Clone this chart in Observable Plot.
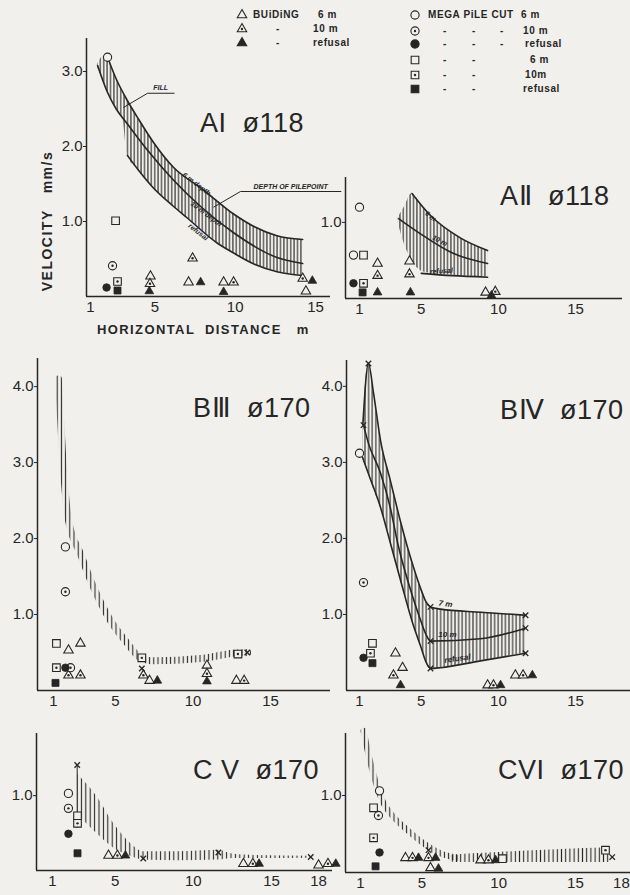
<!DOCTYPE html>
<html><head><meta charset="utf-8">
<script src="https://cdn.jsdelivr.net/npm/d3@7"></script>
<script src="https://cdn.jsdelivr.net/npm/@observablehq/plot@0.6"></script>
<style>
body{margin:0;background:#f1f0ec;}
#page{position:relative;width:630px;height:895px;overflow:hidden;font-family:"Liberation Sans",Arial,sans-serif;color:#262626;background:#f1f0ec;}
.abs{position:absolute;white-space:pre;line-height:1;}
.title{font-size:27px;letter-spacing:0.5px;}
.leg{font-size:10px;font-weight:bold;letter-spacing:0.6px;}
.axt{font-size:14px;letter-spacing:1.5px;font-weight:bold;}
</style></head><body><div id="page"></div>
<script>
const INK = "#262626", BG = "#f1f0ec";

// ---------- data (x = horizontal distance m, v = velocity mm/s) ----------
// AI ø118
const AI_band = [[1.45,3.05,3.10],[1.8,2.86,3.2],[2.06,2.72,3.17],[2.6,2.5,2.9],[3.0,2.38,2.72],[3.3,1.88,2.61],[4.0,1.68,2.36],[4.9,1.45,2.06],[6.17,1.2,1.72],[7.0,1.05,1.58],[7.85,0.9,1.45],[8.9,0.71,1.28],[9.9,0.58,1.1],[11.2,0.43,0.93],[12.6,0.33,0.81],[14.2,0.28,0.76]];
const AI_6m = [[2.06,3.19],[2.6,2.9],[3.3,2.61],[4.0,2.36],[4.9,2.06],[6.17,1.72],[7.85,1.45],[9.9,1.1],[11.2,0.93],[12.6,0.81],[14.2,0.76]];
const AI_10m = [[1.44,3.08],[2.06,2.72],[2.6,2.5],[3.3,2.3],[4.55,1.95],[6.17,1.55],[7.85,1.2],[9.9,0.85],[12.6,0.52],[14.2,0.44]];
const AI_ref = [[3.3,1.88],[4.0,1.68],[4.9,1.45],[6.17,1.2],[7.0,1.05],[8.9,0.71],[9.9,0.58],[11.2,0.43],[12.6,0.33],[14.2,0.28]];
const AI_pts = [[2.06,3.19,"c6"],[2.56,1.01,"s6"],[2.37,0.41,"c10"],[2.68,0.2,"s10"],[2.0,0.12,"cR"],[2.68,0.08,"sR"],
  [4.73,0.27,"b6"],[4.7,0.17,"b10"],[4.66,0.07,"bR"],[7.35,0.51,"b10"],[7.1,0.19,"b6"],[7.85,0.19,"bR"],
  [9.28,0.19,"b6"],[9.9,0.19,"b10"],[9.28,0.06,"bR"],[14.2,0.24,"b10"],[14.8,0.21,"bR"],[14.4,0.07,"b6"]];
const AI_notes = [[5.36,2.79,"FILL",0],[13.45,1.47,"DEPTH OF PILEPOINT",0],[7.6,1.5,"6 m depth",37],[8.2,1.1,"10 m depth",37],[7.7,0.86,"refusal",38]];
const AI_links = [[4.55,2.71,6.23,2.71],[4.55,2.71,3.05,2.52],[10.33,1.4,16.6,1.4],[10.33,1.4,8.65,1.19]];

// AII ø118
const AII_band = [[3.5,1.0,1.06],[3.9,0.72,1.2],[4.4,0.5,1.38],[5.0,0.36,1.23],[5.6,0.33,1.09],[7.5,0.3,0.8],[9.3,0.28,0.63]];
const AII_6m = [[4.4,1.38],[5.6,1.09],[7.5,0.8],[9.3,0.63]];
const AII_10m = [[3.53,1.05],[4.95,0.85],[7.1,0.59],[9.3,0.46]];
const AII_ref = [[5.0,0.33],[7.0,0.3],[9.3,0.28]];
const AII_pts = [[1.0,1.2,"c6"],[0.61,0.57,"c6"],[1.26,0.57,"s6"],[0.61,0.2,"cR"],[1.26,0.2,"s10"],[1.2,0.08,"sR"],
  [2.17,0.46,"b6"],[2.17,0.3,"b10"],[2.17,0.08,"bR"],[4.24,0.49,"b6"],[4.24,0.32,"b10"],[4.3,0.08,"bR"],
  [9.17,0.08,"b6"],[9.8,0.09,"b10"],[9.55,0.04,"bR"]];
const AII_notes = [[5.61,1.08,"6 m",38],[6.2,0.76,"10 m",28],[6.3,0.36,"refusal",-3]];

// BIII ø170
const B3_curve = [[1.32,4.1],[1.58,3.12],[1.97,2.24],[2.74,1.8],[3.58,1.36],[4.68,0.92],[5.77,0.62],[6.61,0.43],[7.45,0.39],[10.48,0.42],[12.61,0.49],[13.52,0.5]];
const B3_pts = [[1.77,1.89,"c6"],[1.77,1.3,"c10"],[1.19,0.62,"s6"],[1.97,0.53,"b6"],[2.74,0.62,"b6"],[1.19,0.3,"s10"],[1.77,0.3,"cR"],[2.1,0.3,"c10"],
  [1.97,0.2,"b10"],[2.74,0.2,"b10"],[1.13,0.1,"sR"],[6.7,0.43,"s10"],[6.7,0.29,"x"],[6.8,0.2,"b10"],[7.2,0.13,"b6"],[7.7,0.13,"bR"],
  [10.9,0.33,"b6"],[10.9,0.22,"b10"],[10.9,0.12,"bR"],[12.9,0.48,"s10"],[13.5,0.5,"x"],[12.8,0.13,"b6"],[13.3,0.13,"b10"]];

// BIV ø170
const B4_band = [[1.2,3.05,3.45],[1.58,2.85,4.3],[1.91,2.65,3.91],[2.36,2.41,3.29],[3.0,1.94,2.76],[3.66,1.45,2.22],[4.5,0.85,1.62],[5.0,0.56,1.32],[5.3,0.38,1.17],[5.6,0.29,1.1],[6.25,0.3,1.07],[8.84,0.39,1.03],[11.76,0.49,0.99]];
const B4_7m = [[1.22,3.5],[1.58,4.3],[1.91,3.91],[2.36,3.29],[3.0,2.76],[3.66,2.22],[4.5,1.62],[5.0,1.32],[5.3,1.17],[5.6,1.1],[6.25,1.07],[8.84,1.03],[11.76,0.99]];
const B4_10m = [[1.26,3.49],[1.58,3.25],[2.36,2.86],[3.0,2.4],[3.46,1.95],[4.5,1.2],[5.0,0.9],[5.3,0.74],[5.6,0.65],[8.84,0.68],[11.76,0.82]];
const B4_ref = [[1.19,3.07],[1.58,2.85],[2.36,2.41],[3.0,1.94],[3.66,1.45],[4.5,0.85],[5.0,0.56],[5.3,0.38],[5.6,0.29],[6.25,0.3],[8.84,0.39],[11.76,0.49]];
const B4_pts = [[1.0,3.12,"c6"],[1.26,1.42,"c10"],[1.84,0.62,"s6"],[1.71,0.49,"s10"],[1.26,0.43,"cR"],[1.84,0.36,"sR"],
  [3.33,0.49,"b6"],[3.79,0.3,"b6"],[3.2,0.2,"b10"],[3.66,0.07,"bR"],[9.3,0.07,"b6"],[9.68,0.07,"b10"],[10.14,0.07,"bR"],
  [11.1,0.2,"b6"],[11.6,0.2,"b10"],[12.2,0.2,"bR"],
  [1.58,4.3,"x"],[1.26,3.49,"x"],[5.6,1.1,"x"],[5.6,0.65,"x"],[5.6,0.29,"x"],[11.76,0.99,"x"],[11.76,0.82,"x"],[11.76,0.49,"x"]];
const B4_notes = [[6.57,1.14,"7 m",8],[6.7,0.74,"10 m",0],[7.35,0.42,"refusal",-8]];

// CV ø170
const CV_band = [[2.6,0.75,1.29],[3.9,0.48,0.97],[4.9,0.3,0.63],[6.0,0.19,0.36],[6.8,0.14,0.25],[9.0,0.13,0.25],[11.6,0.14,0.27],[12.5,0.16,0.22],[14.0,0.16,0.2],[17.5,0.165,0.19]];
const CV_links = [[2.58,0.57,2.58,1.41]];
const CV_pts = [[2.02,1.03,"c6"],[2.02,0.83,"c10"],[2.6,0.73,"s6"],[2.6,0.63,"s10"],[2.02,0.49,"cR"],[2.6,0.23,"sR"],
  [4.58,0.2,"b6"],[5.15,0.2,"b10"],[5.66,0.2,"bR"],[13.2,0.09,"b6"],[13.8,0.09,"b10"],[14.2,0.09,"bR"],
  [18.0,0.07,"b6"],[18.6,0.09,"b10"],[19.1,0.09,"bR"],[2.58,1.41,"x"],[6.8,0.16,"x"],[11.6,0.24,"x"],[17.5,0.18,"x"]];

// CVI ø170
const C6_curve = [[1.2,1.84],[1.45,1.6],[1.78,1.32],[2.5,0.9],[2.95,0.77],[4.06,0.55],[5.1,0.38],[6.2,0.25],[7.3,0.19]];
const C6_band = [[6.8,0.14,0.22],[7.3,0.13,0.23],[10,0.13,0.26],[13,0.13,0.29],[17.3,0.13,0.32]];
const C6_pts = [[2.24,1.06,"c6"],[1.85,0.84,"s6"],[2.17,0.74,"c10"],[1.85,0.45,"s10"],[2.24,0.26,"cR"],[1.98,0.08,"sR"],
  [3.93,0.19,"b6"],[4.39,0.19,"b10"],[4.78,0.19,"bR"],[5.43,0.29,"x"],[5.43,0.19,"b10"],[5.89,0.19,"bR"],[5.56,0.06,"b6"],[6.08,0.05,"bR"],
  [8.82,0.16,"b6"],[9.34,0.16,"b10"],[9.8,0.16,"bR"],[10.25,0.18,"s6"],[16.96,0.29,"s10"],[17.4,0.2,"x"]];

// legend entries
const legendLeft = [["b6", "BUiDiNG", "6 m"], ["b10", null, "10 m"], ["bR", null, "refusal"]];
const legendRight = [["c6", "MEGA PiLE CUT", "6 m"], ["c10", null, "10 m"], ["cR", null, "refusal"], ["s6", null, "6 m"], ["s10", null, "10m"], ["sR", null, "refusal"]];

// ---------- helpers ----------
const page = document.getElementById("page");
const ns = "http://www.w3.org/2000/svg";
function hatchDefs(svg, id, gap, w) {
  const defs = document.createElementNS(ns, "defs");
  const p = document.createElementNS(ns, "pattern");
  p.setAttribute("id", id); p.setAttribute("patternUnits", "userSpaceOnUse");
  p.setAttribute("width", gap); p.setAttribute("height", 8);
  const l = document.createElementNS(ns, "line");
  l.setAttribute("x1", gap / 2); l.setAttribute("x2", gap / 2);
  l.setAttribute("y1", -1); l.setAttribute("y2", 9);
  l.setAttribute("stroke", INK); l.setAttribute("stroke-width", w);
  p.append(l); defs.append(p); svg.prepend(defs);
}
const shapeOf = k => k[0] === "b" ? "triangle" : k[0] === "c" ? "circle" : "square";
const SZ = {triangle: 3.5, circle: 4.1, square: 4.3};
function markerMarks(pts) {
  const P = pts.map(([x, v, k]) => ({x, v, k}));
  const m = [];
  for (const s of ["triangle", "circle", "square"]) {
    m.push(Plot.dot(P.filter(d => d.k !== "x" && shapeOf(d.k) === s && !d.k.endsWith("R")),
      {x: "x", y: "v", symbol: s, r: SZ[s], fill: BG, stroke: INK, strokeWidth: 1.1}));
    m.push(Plot.dot(P.filter(d => d.k !== "x" && shapeOf(d.k) === s && d.k.endsWith("R")),
      {x: "x", y: "v", symbol: s, r: SZ[s] * 0.92, fill: INK, stroke: INK, strokeWidth: 0.8}));
  }
  m.push(Plot.dot(P.filter(d => d.k.endsWith("10")), {x: "x", y: "v", r: 1.2, fill: INK, stroke: "none"}));
  m.push(Plot.dot(P.filter(d => d.k === "x"), {x: "x", y: "v", symbol: "times", r: 2.6, stroke: INK, strokeWidth: 1.3}));
  return m;
}
function panel(o) {
  const id = "hatch" + o.key;
  const X = d => d[0], Y = d => d[1];
  const marks = [];
  if (o.band) marks.push(Plot.areaY(o.band, {x: X, y1: d => d[1], y2: d => d[2], fill: `url(#${id})`, curve: "monotone-x"}));
  for (const c of o.thick || []) marks.push(Plot.line(c, {x: X, y: Y, stroke: `url(#${id})`, strokeWidth: o.thickW || 7, curve: "monotone-x"}));
  for (const c of o.lines || []) marks.push(Plot.line(c, {x: X, y: Y, stroke: INK, strokeWidth: 1.6, curve: "monotone-x"}));
  if (o.links) marks.push(Plot.link(o.links, {x1: d => d[0], y1: d => d[1], x2: d => d[2], y2: d => d[3], stroke: INK, strokeWidth: 1}));
  if (o.notes) marks.push(Plot.text(o.notes, {x: X, y: Y, text: d => d[2], rotate: d => d[3], fontSize: o.noteSize || 8, fontStyle: "italic", fontWeight: "bold", fill: INK, letterSpacing: 1}));
  marks.push(...markerMarks(o.pts));
  marks.push(Plot.ruleX([o.xd[0]], {stroke: INK, strokeWidth: 1.5}));
  marks.push(Plot.ruleY([0], {stroke: INK, strokeWidth: 1.5}));
  marks.push(Plot.axisY({ticks: o.yt, tickFormat: d => d.toFixed(1), tickSize: 3, tickPadding: 1, fontSize: 15, label: null, stroke: INK}));
  marks.push(Plot.axisX({ticks: o.xt, tickFormat: d => String(d), tickSize: 0, tickPadding: 5, fontSize: 15, label: null}));
  const svg = Plot.plot({
    width: o.width, height: o.height,
    marginLeft: o.mL, marginTop: o.mT, marginRight: o.mR, marginBottom: o.mB,
    x: {domain: o.xd}, y: {domain: o.yd},
    style: {background: "transparent", overflow: "visible", color: INK, fontFamily: "Liberation Sans, Arial, sans-serif", maxWidth: "none"},
    marks
  });
  hatchDefs(svg, id, o.gap || 3.4, o.hw || 1.1);
  svg.style.position = "absolute"; svg.style.left = o.left + "px"; svg.style.top = o.top + "px";
  page.append(svg);
}

panel({key: "AI", left: 0, top: 0, width: 335, height: 320, mL: 86, mT: 38, mR: 5, mB: 24, xd: [0.751, 15.93], yd: [0, 3.44],
  yt: [1, 2, 3], xt: [1, 5, 10, 15], band: AI_band, lines: [AI_6m, AI_10m, AI_ref], pts: AI_pts, notes: AI_notes, links: AI_links, noteSize: 7});
panel({key: "AII", left: 320, top: 150, width: 310, height: 170, mL: 25, mT: 27, mR: 8, mB: 22, xd: [0.093, 18.04], yd: [0, 1.59],
  yt: [1], xt: [1, 5, 10, 15], band: AII_band, lines: [AII_6m, AII_10m, AII_ref], pts: AII_pts, notes: AII_notes, noteSize: 7});
panel({key: "BIII", left: 0, top: 340, width: 335, height: 370, mL: 37, mT: 18, mR: 5, mB: 20, xd: [-0.03, 18.87], yd: [0, 4.37],
  yt: [1, 2, 3, 4], xt: [1, 5, 10, 15], thick: [B3_curve], thickW: 7, gap: 4.2, pts: B3_pts});
panel({key: "BIV", left: 320, top: 340, width: 310, height: 370, mL: 26, mT: 20, mR: 0, mB: 20, xd: [0.158, 18.56], yd: [0, 4.34],
  yt: [1, 2, 3, 4], xt: [1, 5, 10, 15], band: B4_band, lines: [B4_7m, B4_10m, B4_ref], pts: B4_pts, notes: B4_notes, gap: 3.6});
panel({key: "CV", left: 0, top: 715, width: 335, height: 180, mL: 36, mT: 18, mR: 3, mB: 25, xd: [-0.02, 18.89], yd: [0, 1.83],
  yt: [1], xt: [1, 5, 10, 15, 18], band: CV_band, links: CV_links, pts: CV_pts, gap: 4.4});
panel({key: "CVI", left: 320, top: 715, width: 310, height: 180, mL: 25, mT: 18, mR: 0, mB: 23, xd: [0.023, 18.59], yd: [0, 1.805],
  yt: [1], xt: [1, 5, 10, 15, 18], band: C6_band, thick: [C6_curve], thickW: 6, gap: 4.2, pts: C6_pts});

// ---------- text overlays ----------
function txt(s, x, y, cls, extra) {
  const d = document.createElement("div");
  d.className = "abs " + cls; d.textContent = s;
  d.style.left = x + "px"; d.style.top = y + "px";
  if (extra) Object.assign(d.style, extra);
  page.append(d); return d;
}
const titles = [["AI  ø118", 200, 110], ["AⅡ  ø118", 500, 183], ["BⅢ  ø170", 193, 395], ["BⅣ  ø170", 500, 397], ["C V  ø170", 193, 757], ["CVI  ø170", 498, 757]];
for (const [s, x, y] of titles) txt(s, x, y, "title");
txt("VELOCITY   mm/s", 47, 221, "axt", {transform: "translate(-50%,-50%) rotate(-90deg)"});
txt("HORIZONTAL  DISTANCE   m", 97, 323, "axt", {fontSize: "13px", letterSpacing: "1.4px"});

// legend
function icon(kind, cx, cy) {
  const s = shapeOf(kind);
  const type = s === "triangle" ? d3.symbolTriangle : s === "circle" ? d3.symbolCircle : d3.symbolSquare;
  const r = SZ[s];
  const path = d3.symbol(type, Math.PI * r * r)();
  const filled = kind.endsWith("R");
  const svg = document.createElementNS(ns, "svg");
  svg.setAttribute("width", 16); svg.setAttribute("height", 16);
  svg.style.position = "absolute"; svg.style.left = (cx - 8) + "px"; svg.style.top = (cy - 8) + "px";
  svg.innerHTML = `<path transform="translate(8,8)" d="${path}" fill="${filled ? INK : BG}" stroke="${INK}" stroke-width="1.1"/>` +
    (kind.endsWith("10") ? `<circle cx="8" cy="8" r="1.2" fill="${INK}"/>` : "");
  page.append(svg);
}
const legLrows = [15, 29, 43], legLdepX = [318, 313, 313];
legendLeft.forEach(([k, lab, dep], i) => {
  const cy = legLrows[i];
  icon(k, 242, cy);
  if (lab) txt(lab, 253, cy - 5, "leg"); else txt("-", 276, cy - 5, "leg");
  txt(dep, legLdepX[i], cy - 5, "leg");
});
const legRrows = [15, 31, 44, 60, 75, 89], legRdepX = [521, 523, 525, 530, 525, 523], legRdash = [0, 3, 3, 2, 2, 2];
legendRight.forEach(([k, lab, dep], i) => {
  const cy = legRrows[i];
  icon(k, 415, cy);
  if (lab) txt(lab, 428, cy - 5, "leg");
  [443, 472, 500].slice(0, legRdash[i]).forEach(x => txt("-", x, cy - 5, "leg"));
  txt(dep, legRdepX[i], cy - 5, "leg");
});
</script></body></html>
